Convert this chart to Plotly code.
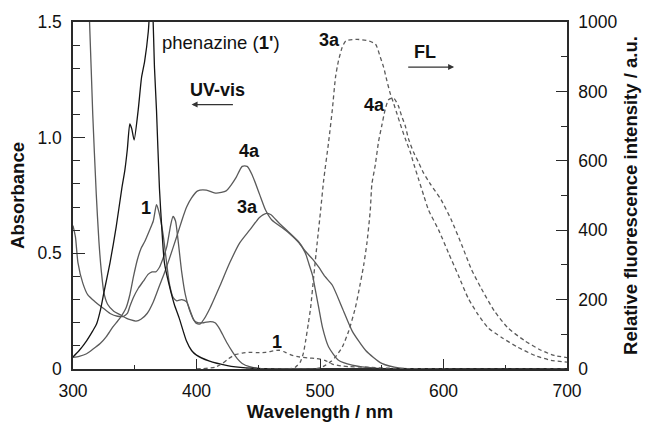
import plotly.graph_objects as go

# ---------------- data ----------------
# UV-vis absorbance (left axis)
phen_x = [300, 305, 311, 316, 319, 322, 325, 330, 335, 339.5, 342, 344, 346, 347.5, 349.5, 352.8, 355.5, 358, 361, 363,
          364.5, 366, 367.6, 370, 372, 374, 378, 382, 386, 391.8, 396, 400, 410, 425, 440, 460, 500, 600, 700]
phen_y = [0.052, 0.08, 0.122, 0.165, 0.193, 0.25, 0.33, 0.46, 0.615, 0.78, 0.86, 0.95, 1.06, 1.04, 0.99, 1.12, 1.26, 1.33,
          1.46, 1.62, 1.55, 1.3, 1.12, 0.78, 0.6, 0.46, 0.36, 0.28, 0.22, 0.122, 0.08, 0.06, 0.035, 0.015, 0.005, 0.0,
          0.0, 0.0, 0.0]

c1_x = [300, 305, 311, 316, 322, 327, 332, 338, 343, 346, 349, 352, 355, 358, 362, 365, 367.6, 369.5, 373, 376, 378, 381,
        384, 388, 392, 395, 398, 401, 406, 411, 415, 418, 421, 425, 429, 433, 437, 443, 450, 470, 700]
c1_y = [0.05, 0.055, 0.066, 0.085, 0.11, 0.14, 0.18, 0.22, 0.265, 0.32, 0.4, 0.47, 0.52, 0.55, 0.6, 0.64, 0.71, 0.68,
        0.58, 0.45, 0.37, 0.31, 0.295, 0.3, 0.29, 0.25, 0.21, 0.2, 0.2, 0.205, 0.2, 0.18, 0.15, 0.11, 0.075, 0.045,
        0.024, 0.01, 0.003, 0.0, 0.0]

a3_x = [300, 302, 304, 308, 312, 318, 324, 330, 336, 341, 344, 346, 349, 353, 357, 361, 364, 367, 370, 373, 376, 379,
        381, 383, 385, 388, 391, 394, 397, 400, 403, 406, 411, 419, 427, 435, 443, 451, 456, 460, 467, 475, 483, 488,
        494, 499, 504, 510, 518, 526, 537, 550, 565, 600, 700]
a3_y = [0.62, 0.57, 0.46, 0.37, 0.32, 0.29, 0.265, 0.24, 0.228, 0.228, 0.24, 0.27, 0.31, 0.35, 0.38, 0.41, 0.42, 0.42,
        0.44, 0.48, 0.53, 0.62, 0.66, 0.64, 0.56, 0.42, 0.32, 0.26, 0.22, 0.197, 0.195, 0.215, 0.264, 0.36, 0.46, 0.545,
        0.6, 0.655, 0.672, 0.668, 0.63, 0.59, 0.548, 0.51, 0.475, 0.44, 0.4, 0.362, 0.264, 0.165, 0.08, 0.024, 0.004,
        0.0, 0.0]

a4_x = [300, 308, 311, 313.4, 316, 318.8, 321, 323, 325, 328, 333, 338, 343, 347, 351, 355, 360, 365, 370, 374, 378,
        384, 388, 392, 396, 401, 408, 416, 424, 428, 432, 437, 441, 445, 451, 456, 461, 470, 475, 483, 488, 491, 494,
        496.5, 499, 502, 507, 515, 526, 545, 580, 700]
a4_y = [3.0, 2.0, 1.75, 1.5, 1.1, 0.76, 0.55, 0.42, 0.33, 0.28, 0.25, 0.235, 0.22, 0.212, 0.207, 0.215, 0.24, 0.29,
        0.36, 0.415, 0.476, 0.573, 0.64, 0.7, 0.74, 0.77, 0.773, 0.76, 0.77, 0.795, 0.827, 0.876, 0.876, 0.84, 0.756,
        0.686, 0.644, 0.608, 0.587, 0.545, 0.503, 0.455, 0.404, 0.334, 0.264, 0.18, 0.095, 0.038, 0.017, 0.004, 0.0,
        0.0]

# Fluorescence (right axis)
f1_x = [400, 415, 421, 426, 432, 437, 443, 449, 456, 462, 467, 472, 477, 483, 490, 497, 504, 510, 517, 523, 537, 560,
        600, 700]
f1_y = [0, 5, 16, 30, 42, 46, 48, 47, 48, 52, 54, 48, 40, 35, 32, 30, 25, 14, 9, 7, 5, 2, 0, 0]

f3_x = [440, 470, 475, 480, 484, 486.5, 488.4, 490.5, 492.4, 495, 497.7, 500.5, 503, 507, 510, 512.6, 515, 518, 521,
        530, 540, 545, 548.8, 551.5, 554, 556.8, 559.5, 562, 565, 569, 573, 576, 580, 584, 588, 596, 604, 612, 620, 628,
        636, 647, 660, 674, 687, 700]
f3_y = [0, 0, 0, 5, 20, 45, 82, 130, 176, 270, 363, 457, 545, 655, 748, 842, 889, 927, 946, 950, 945, 936, 899, 870,
        833, 795, 767, 739, 706, 664, 626, 590, 545, 500, 457, 401, 335, 270, 204, 157, 119, 91, 63, 39, 25, 20]

f4_x = [480, 495, 500, 504.5, 509, 512.6, 518, 523.3, 528.6, 531.3, 535.3, 538, 540.7, 542, 544.8, 547.4, 550, 552.8,
        555.5, 559.5, 563.5, 566, 569, 571.6, 575.6, 579.7, 583.7, 589, 598, 606, 614.5, 622.5, 630.6, 641.4, 652,
        665.5, 679, 689.7, 700]
f4_y = [0, 0, 3, 11, 22, 35, 63, 110, 176, 222, 298, 363, 457, 532, 589, 655, 701, 748, 776, 781, 758, 730, 701, 664,
        626, 596, 566, 535, 488, 432, 360, 288, 232, 166, 119, 82, 54, 39, 33]

x_tick_vals = [300, 400, 500, 600, 700]
y_tick_vals = [0, 0.5, 1.0, 1.5]
y_tick_text = ["0", "0.5", "1.0", "1.5"]
y2_tick_vals = [0, 200, 400, 600, 800, 1000]

# ---------------- figure ----------------
GRAY = "#5a5a5a"
BLACK = "#141414"
AX = "#2a2a2a"
FONT = "Liberation Sans, Arial, Helvetica, sans-serif"

fig = go.Figure()


def uv(x, y, color):
    fig.add_trace(go.Scatter(x=x, y=y, mode="lines", line=dict(color=color, width=1.3, shape="spline", smoothing=0.6),
                             hoverinfo="skip"))


def fl(x, y):
    fig.add_trace(go.Scatter(x=x, y=y, mode="lines", yaxis="y2",
                             line=dict(color=GRAY, width=1.3, dash="4px,3px", shape="spline", smoothing=0.6),
                             hoverinfo="skip"))


uv(a4_x, a4_y, GRAY)
uv(a3_x, a3_y, GRAY)
uv(c1_x, c1_y, GRAY)
uv(phen_x, phen_y, BLACK)
fl(f1_x, f1_y)
fl(f3_x, f3_y)
fl(f4_x, f4_y)

bold = dict(family=FONT, size=18, color="#111")
anns = [
    dict(x=370.3, y=1.41, xref="x", yref="y", text="phenazine (<b>1'</b>)", showarrow=False, xanchor="left",
         font=dict(family=FONT, size=18.5, color="#111")),
    dict(x=417.4, y=1.207, xref="x", yref="y", text="<b>UV-vis</b>", showarrow=False, font=bold),
    dict(x=396.0, y=1.143, xref="x", yref="y", ax=430.7, ay=1.143, axref="x", ayref="y", text="", showarrow=True,
         arrowhead=2, arrowsize=1, arrowwidth=1.2, arrowcolor="#333"),
    dict(x=585.3, y=915, xref="x", yref="y2", text="<b>FL</b>", showarrow=False, font=bold),
    dict(x=608.6, y=870, xref="x", yref="y2", ax=570.2, ay=870, axref="x", ayref="y2", text="", showarrow=True,
         arrowhead=2, arrowsize=1, arrowwidth=1.2, arrowcolor="#333"),
    dict(x=508.0, y=948, xref="x", yref="y2", text="<b>3a</b>", showarrow=False, font=bold),
    dict(x=544.2, y=760, xref="x", yref="y2", text="<b>4a</b>", showarrow=False, font=bold),
    dict(x=442.8, y=0.943, xref="x", yref="y", text="<b>4a</b>", showarrow=False, font=bold),
    dict(x=441.5, y=0.70, xref="x", yref="y", text="<b>3a</b>", showarrow=False, font=bold),
    dict(x=359.4, y=0.696, xref="x", yref="y", text="<b>1</b>", showarrow=False, font=bold),
    dict(x=464.9, y=79, xref="x", yref="y2", text="<b>1</b>", showarrow=False, font=bold),
]

fig.update_layout(
    width=650, height=430,
    margin=dict(l=73, r=81, t=21, b=54),
    paper_bgcolor="white", plot_bgcolor="white", showlegend=False,
    font=dict(family=FONT, size=17.5, color="#111"),
    annotations=anns,
    xaxis=dict(range=[300, 700], tickvals=x_tick_vals, ticks="inside", ticklen=10, tickwidth=1.3, tickcolor=AX,
               showline=True, linecolor=AX, linewidth=1.5, mirror=True, showgrid=False, zeroline=False,
               ticklabelstandoff=5,
               minor=dict(dtick=50, tick0=300, ticks="inside", ticklen=4, tickwidth=1.3, tickcolor=AX, showgrid=False),
               title=dict(text="<b>Wavelength / nm</b>", font=dict(size=18.5), standoff=4)),
    yaxis=dict(range=[0, 1.5], tickvals=y_tick_vals, ticktext=y_tick_text, ticks="inside", ticklen=12, tickwidth=1.3,
               tickcolor=AX, showline=True, linecolor=AX, linewidth=1.5, showgrid=False, zeroline=False,
               ticklabelstandoff=6,
               minor=dict(dtick=0.1, tick0=0, ticks="inside", ticklen=7, tickwidth=1.3, tickcolor=AX, showgrid=False),
               title=dict(text="<b>Absorbance</b>", font=dict(size=18.5), standoff=8)),
    yaxis2=dict(range=[0, 1000], tickvals=y2_tick_vals, overlaying="y", side="right", ticks="inside", ticklen=11,
                tickwidth=1.3, tickcolor=AX, showline=True, linecolor=AX, linewidth=1.5, showgrid=False,
                zeroline=False, ticklabelstandoff=6,
                minor=dict(dtick=100, tick0=0, ticks="inside", ticklen=6, tickwidth=1.3, tickcolor=AX,
                           showgrid=False),
                title=dict(text="<b>Relative fluorescence intensity / a.u.</b>", font=dict(size=18.5), standoff=8)),
)

fig.write_html("out.html", config={"displayModeBar": False},
               post_script="document.body.style.margin='0';document.body.style.padding='0';")
